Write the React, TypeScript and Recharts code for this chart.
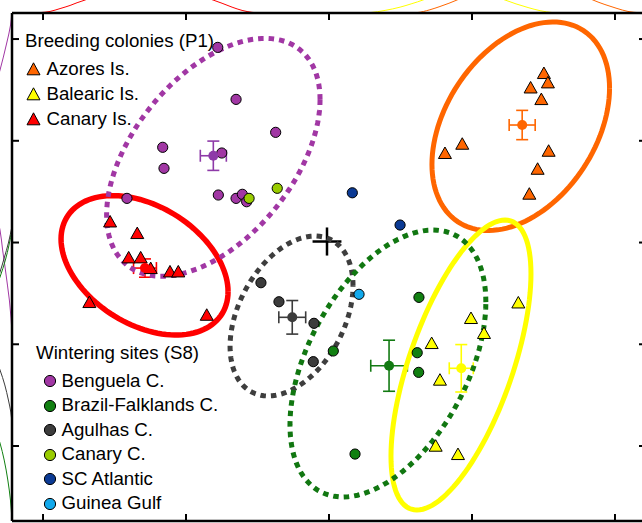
import React from "react";
import { ComposedChart, Scatter, XAxis, YAxis, ErrorBar } from "recharts";

// axis ranges (1 tick per unit, no tick labels)
const X_DOMAIN: [number, number] = [-0.217, 4.217];
const Y_DOMAIN: [number, number] = [-0.737, 4.256];
const TICKS = [0, 1, 2, 3, 4];

const FONT = '"Liberation Sans", Arial, Helvetica, sans-serif';

// breeding colonies (P1) - individual birds
const azores: [number, number][] = [
  [3.503, 3.663], [3.531, 3.571], [3.41, 3.521], [3.485, 3.407], [2.932, 2.968],
  [2.811, 2.877], [3.536, 2.899], [3.459, 2.722], [3.401, 2.477],
];
const balearic: [number, number][] = [
  [3.324, 1.408], [2.993, 1.255], [3.084, 1.108], [2.718, 1.009], [2.776, 0.649],
  [2.746, 0.0], [2.902, -0.082],
];
const canary: [number, number][] = [
  [0.469, 2.204], [0.659, 2.09], [0.599, 1.851], [0.683, 1.851], [0.753, 1.746],
  [0.888, 1.713], [0.946, 1.713], [0.324, 1.412], [1.145, 1.287],
];

// wintering sites (S8)
const benguela: [number, number][] = [
  [1.222, 3.918], [1.35, 3.407], [1.627, 3.083], [0.837, 2.936], [1.25, 2.88],
  [0.846, 2.729], [0.587, 2.434], [1.226, 2.467], [1.35, 2.434], [1.394, 2.474], [1.424, 2.401],
];
const brazilFalklands: [number, number][] = [
  [2.629, 1.461], [2.617, 0.917], [2.03, 0.934], [2.627, 0.724], [2.182, -0.079],
];
const agulhas: [number, number][] = [
  [1.524, 1.605], [1.65, 1.418], [1.895, 1.206], [1.89, 0.829],
];
const canaryCurrent: [number, number][] = [[1.441, 2.434], [1.638, 2.533]];
const scAtlantic: [number, number][] = [[2.163, 2.489], [2.497, 2.172]];
const guineaGulf: [number, number][] = [[2.21, 1.491]];

// group means with standard errors
const colonyMeans = [
  { key: "azores", x: 3.351, y: 3.155, ex: 0.091, ey: 0.144, color: "#FF6600" },
  { key: "balearic", x: 2.925, y: 0.764, ex: 0.084, ey: 0.233, color: "#FFFF00" },
  { key: "canary", x: 0.713, y: 1.749, ex: 0.08, ey: 0.09, color: "#FF0000" },
];
const siteMeans = [
  { key: "benguela", x: 1.191, y: 2.853, ex: 0.091, ey: 0.144, color: "#8E3AA8" },
  { key: "brazil", x: 2.42, y: 0.789, ex: 0.128, ey: 0.251, color: "#127A12" },
  { key: "agulhas", x: 1.743, y: 1.265, ex: 0.094, ey: 0.165, color: "#3C3C3C" },
];
const overallMean = [{ x: 1.986, y: 2.01, ex: 0.101, ey: 0.138 }];

// standard ellipses: centre, x / y half extents, correlation
const ellipses = [
  { key: "canary", cx: 0.71, cy: 1.776, sx: 0.584, sy: 0.685, r: -0.377, color: "#FF0000", width: 5.5, dash: undefined },
  { key: "azores", cx: 3.341, cy: 3.143, sx: 0.621, sy: 1.025, r: 0.366, color: "#FF6600", width: 5, dash: undefined },
  { key: "balearic", cx: 2.923, cy: 0.796, sx: 0.4895, sy: 1.425, r: 0.629, color: "#FFFF00", width: 5, dash: undefined },
  { key: "benguela", cx: 1.191, cy: 2.838, sx: 0.7465, sy: 1.169, r: 0.485, color: "#A137A4", width: 5, dash: "5.5 5" },
  { key: "agulhas", cx: 1.738, cy: 1.278, sx: 0.43, sy: 0.786, r: 0.38, color: "#3E3E3E", width: 5, dash: "5.5 5" },
  { key: "brazil", cx: 2.412, cy: 0.811, sx: 0.685, sy: 1.312, r: 0.46, color: "#117711", width: 5, dash: "5.5 5" },
];

// marginal densities along x (above the frame) and along y (left of the frame)
const topDensityX = {
  canary: [-0.091, -0.021, 0.049, 0.119, 0.189, 0.238, 0.294, 0.364, 0.741, 1.098, 1.189, 1.252, 1.322, 1.392, 1.462, 1.531],
  balearic: [2.217, 2.287, 2.392, 2.497, 2.58, 2.657, 2.72, 2.944, 3.161, 3.231, 3.308, 3.392, 3.476, 3.566, 3.636],
  azores: [2.552, 2.615, 2.706, 2.776, 2.839, 2.895, 2.951, 3.371, 3.79, 3.846, 3.93, 4.014, 4.091, 4.175, 4.245],
};
const topDensityD = {
  canary: [0, 0.03, 0.12, 0.34, 0.58, 0.79, 1.0, 1.35, 3.0, 1.35, 1.0, 0.75, 0.45, 0.2, 0.05, 0],
  balearic: [0, 0.03, 0.2, 0.45, 0.72, 1.0, 1.3, 3.0, 1.3, 1.0, 0.7, 0.42, 0.18, 0.03, 0],
  azores: [0, 0.03, 0.25, 0.5, 0.75, 1.0, 1.3, 3.0, 1.3, 1.0, 0.65, 0.35, 0.12, 0.02, 0],
};
const leftDensityY = {
  benguela: [4.256, 4.138, 3.961, 3.823, 3.695, 3.548, 2.713, 2.27, 2.123, 1.926, 1.759, 1.582, 1.435, 1.258, 1.111],
  brazil: [2.201, 2.123, 1.975, 1.828, 1.661, 1.533, 0.688, 0.157, 0.029, -0.138, -0.334, -0.531, -0.737],
  agulhas: [2.162, 1.995, 1.848, 1.71, 1.582, 1.278, 0.865, 0.747, 0.6, 0.452, 0.334, 0.236],
};
const leftDensityD = {
  benguela: [0.02, 0.12, 0.44, 0.72, 1.0, 1.35, 3.0, 1.3, 1.0, 0.78, 0.58, 0.38, 0.22, 0.08, 0],
  brazil: [0, 0.03, 0.25, 0.55, 1.0, 1.4, 3.0, 1.35, 1.0, 0.65, 0.35, 0.13, 0],
  agulhas: [0, 0.3, 0.65, 1.0, 1.4, 4.0, 1.4, 1.0, 0.6, 0.3, 0.1, 0],
};

const colonyLegend = [
  { name: "Azores Is.", color: "#FF6600" },
  { name: "Balearic Is.", color: "#FFFF00" },
  { name: "Canary Is.", color: "#FF0000" },
];
const siteLegend = [
  { name: "Benguela C.", color: "#A137A4" },
  { name: "Brazil-Falklands C.", color: "#118011" },
  { name: "Agulhas C.", color: "#3C3C3C" },
  { name: "Canary C.", color: "#99CC00" },
  { name: "SC Atlantic", color: "#0B3A94" },
  { name: "Guinea Gulf", color: "#12A9EC" },
];

const toPts = (arr: [number, number][]) => arr.map(([x, y]) => ({ x, y }));

function ellipsePoints(e: { cx: number; cy: number; sx: number; sy: number; r: number }) {
  const n = 120;
  const k = Math.sqrt(1 - e.r * e.r);
  const pts = [];
  for (let i = 0; i <= n; i++) {
    const t = (i / n) * Math.PI * 2;
    pts.push({
      x: e.cx + e.sx * Math.cos(t),
      y: e.cy + e.sy * (e.r * Math.cos(t) + k * Math.sin(t)),
    });
  }
  return pts;
}

const noShape = () => <g />;

const triangleShape = (fill: string) => (p: any) => (
  <polygon
    points={`${p.cx},${p.cy - 6.3} ${p.cx + 6.5},${p.cy + 5.2} ${p.cx - 6.5},${p.cy + 5.2}`}
    fill={fill}
    stroke="#000"
    strokeWidth={1}
    strokeLinejoin="miter"
  />
);

const circleShape = (fill: string) => (p: any) => (
  <circle cx={p.cx} cy={p.cy} r={5.1} fill={fill} stroke="#000" strokeWidth={1} />
);

const meanShape = (fill: string) => (p: any) => <circle cx={p.cx} cy={p.cy} r={5} fill={fill} />;

// tick marks only, pointing into the plot
const frameAxis = {
  type: "number" as const,
  ticks: TICKS,
  allowDataOverflow: true,
  mirror: true,
  interval: 0 as const,
  tick: noShape,
  tickFormatter: () => "",
  tickSize: 7,
  tickLine: { stroke: "#000", strokeWidth: 2 },
};
const axisStyle = { stroke: "#000", strokeWidth: 2.5 };

function Legends() {
  const text: React.CSSProperties = {
    position: "absolute",
    fontFamily: FONT,
    fontSize: 18.7,
    lineHeight: "20px",
    color: "#000",
    whiteSpace: "nowrap",
  };
  return (
    <>
      <div style={{ ...text, left: 25, top: 30.5 }}>Breeding colonies (P1)</div>
      {colonyLegend.map((c, i) => (
        <React.Fragment key={c.name}>
          <svg style={{ position: "absolute", left: 26, top: 62 + i * 25 }} width={15} height={14}>
            <polygon points="7.5,0.8 14,12.8 1,12.8" fill={c.color} stroke="#000" strokeWidth={1} />
          </svg>
          <div style={{ ...text, left: 46.5, top: 59.3 + i * 25 }}>{c.name}</div>
        </React.Fragment>
      ))}
      <div style={{ ...text, left: 36, top: 343.3 }}>Wintering sites (S8)</div>
      {siteLegend.map((s, i) => (
        <React.Fragment key={s.name}>
          <svg style={{ position: "absolute", left: 42.5, top: 374 + i * 24.5 }} width={14} height={14}>
            <circle cx={7} cy={7} r={5.6} fill={s.color} stroke="#000" strokeWidth={1} />
          </svg>
          <div style={{ ...text, left: 61.5, top: 370.7 + i * 24.5 }}>{s.name}</div>
        </React.Fragment>
      ))}
    </>
  );
}

function MainPlot() {
  return (
    <ComposedChart width={660} height={540} margin={{ top: 13, right: 14, bottom: 19, left: 12 }}>
      <XAxis xAxisId={0} dataKey="x" domain={X_DOMAIN} height={1} axisLine={axisStyle} {...frameAxis} />
      <XAxis xAxisId="top" orientation="top" dataKey="x" domain={X_DOMAIN} height={1} axisLine={axisStyle} {...frameAxis} />
      <YAxis yAxisId={0} dataKey="y" domain={Y_DOMAIN} width={1} axisLine={axisStyle} {...frameAxis} />
      <YAxis yAxisId="right" orientation="right" dataKey="y" domain={Y_DOMAIN} width={1} axisLine={false} {...frameAxis} />

      {ellipses.map((e) => (
        <Scatter
          key={`ell-${e.key}`}
          data={ellipsePoints(e)}
          shape={noShape}
          line={{ stroke: e.color, strokeWidth: e.width, strokeDasharray: e.dash, fill: "none" }}
          isAnimationActive={false}
        />
      ))}

      <Scatter data={toPts(canary)} shape={triangleShape("#FF0000")} isAnimationActive={false} />
      <Scatter data={toPts(azores)} shape={triangleShape("#FF6600")} isAnimationActive={false} />
      <Scatter data={toPts(balearic)} shape={triangleShape("#FFFF00")} isAnimationActive={false} />
      <Scatter data={toPts(benguela)} shape={circleShape("#A137A4")} isAnimationActive={false} />
      <Scatter data={toPts(canaryCurrent)} shape={circleShape("#99CC00")} isAnimationActive={false} />
      <Scatter data={toPts(brazilFalklands)} shape={circleShape("#118011")} isAnimationActive={false} />
      <Scatter data={toPts(agulhas)} shape={circleShape("#3C3C3C")} isAnimationActive={false} />
      <Scatter data={toPts(scAtlantic)} shape={circleShape("#0B3A94")} isAnimationActive={false} />
      <Scatter data={toPts(guineaGulf)} shape={circleShape("#12A9EC")} isAnimationActive={false} />

      {[...colonyMeans, ...siteMeans].map((m) => (
        <Scatter key={`mean-${m.key}`} data={[m]} shape={meanShape(m.color)} isAnimationActive={false}>
          <ErrorBar dataKey="ex" direction="x" width={6} stroke={m.color} strokeWidth={1.6} />
          <ErrorBar dataKey="ey" direction="y" width={6} stroke={m.color} strokeWidth={1.6} />
        </Scatter>
      ))}

      <Scatter data={overallMean} shape={noShape} isAnimationActive={false}>
        <ErrorBar dataKey="ex" direction="x" width={0} stroke="#000" strokeWidth={2.5} />
        <ErrorBar dataKey="ey" direction="y" width={0} stroke="#000" strokeWidth={2.5} />
      </Scatter>
    </ComposedChart>
  );
}

function TopDensity() {
  const series = [
    { key: "canary", color: "#FF0000" },
    { key: "balearic", color: "#FFFF00" },
    { key: "azores", color: "#FF6600" },
  ] as const;
  return (
    <ComposedChart width={660} height={13} margin={{ top: 0, right: 14, bottom: 0, left: 12 }}>
      <XAxis type="number" dataKey="x" domain={X_DOMAIN} allowDataOverflow hide />
      <YAxis type="number" dataKey="y" domain={[0, 1]} allowDataOverflow hide />
      {series.map((s) => (
        <Scatter
          key={s.key}
          data={topDensityX[s.key].map((x, i) => ({ x, y: topDensityD[s.key][i] }))}
          shape={noShape}
          line={{ stroke: s.color, strokeWidth: 1, fill: "none" }}
          lineJointType="monotoneX"
          isAnimationActive={false}
        />
      ))}
    </ComposedChart>
  );
}

function LeftDensity() {
  const series = [
    { key: "benguela", color: "#A137A4" },
    { key: "brazil", color: "#118011" },
    { key: "agulhas", color: "#3C3C3C" },
  ] as const;
  return (
    <ComposedChart width={12} height={540} margin={{ top: 13, right: 0, bottom: 19, left: 0 }}>
      <XAxis type="number" dataKey="x" domain={[0, 1]} reversed allowDataOverflow hide />
      <YAxis type="number" dataKey="y" domain={Y_DOMAIN} allowDataOverflow hide />
      {series.map((s) => (
        <Scatter
          key={s.key}
          data={leftDensityY[s.key].map((y, i) => ({ x: leftDensityD[s.key][i], y }))}
          shape={noShape}
          line={{ stroke: s.color, strokeWidth: 1, fill: "none" }}
          lineJointType="monotoneY"
          isAnimationActive={false}
        />
      ))}
    </ComposedChart>
  );
}

export default function App() {
  return (
    <div style={{ position: "absolute", left: 0, top: 0, width: 642, height: 523, overflow: "hidden", background: "#fff" }}>
      <Legends />
      <div style={{ position: "absolute", left: 0, top: 0 }}>
        <TopDensity />
      </div>
      <div style={{ position: "absolute", left: 0, top: 0 }}>
        <LeftDensity />
      </div>
      <div style={{ position: "absolute", left: 0, top: 0 }}>
        <MainPlot />
      </div>
    </div>
  );
}
